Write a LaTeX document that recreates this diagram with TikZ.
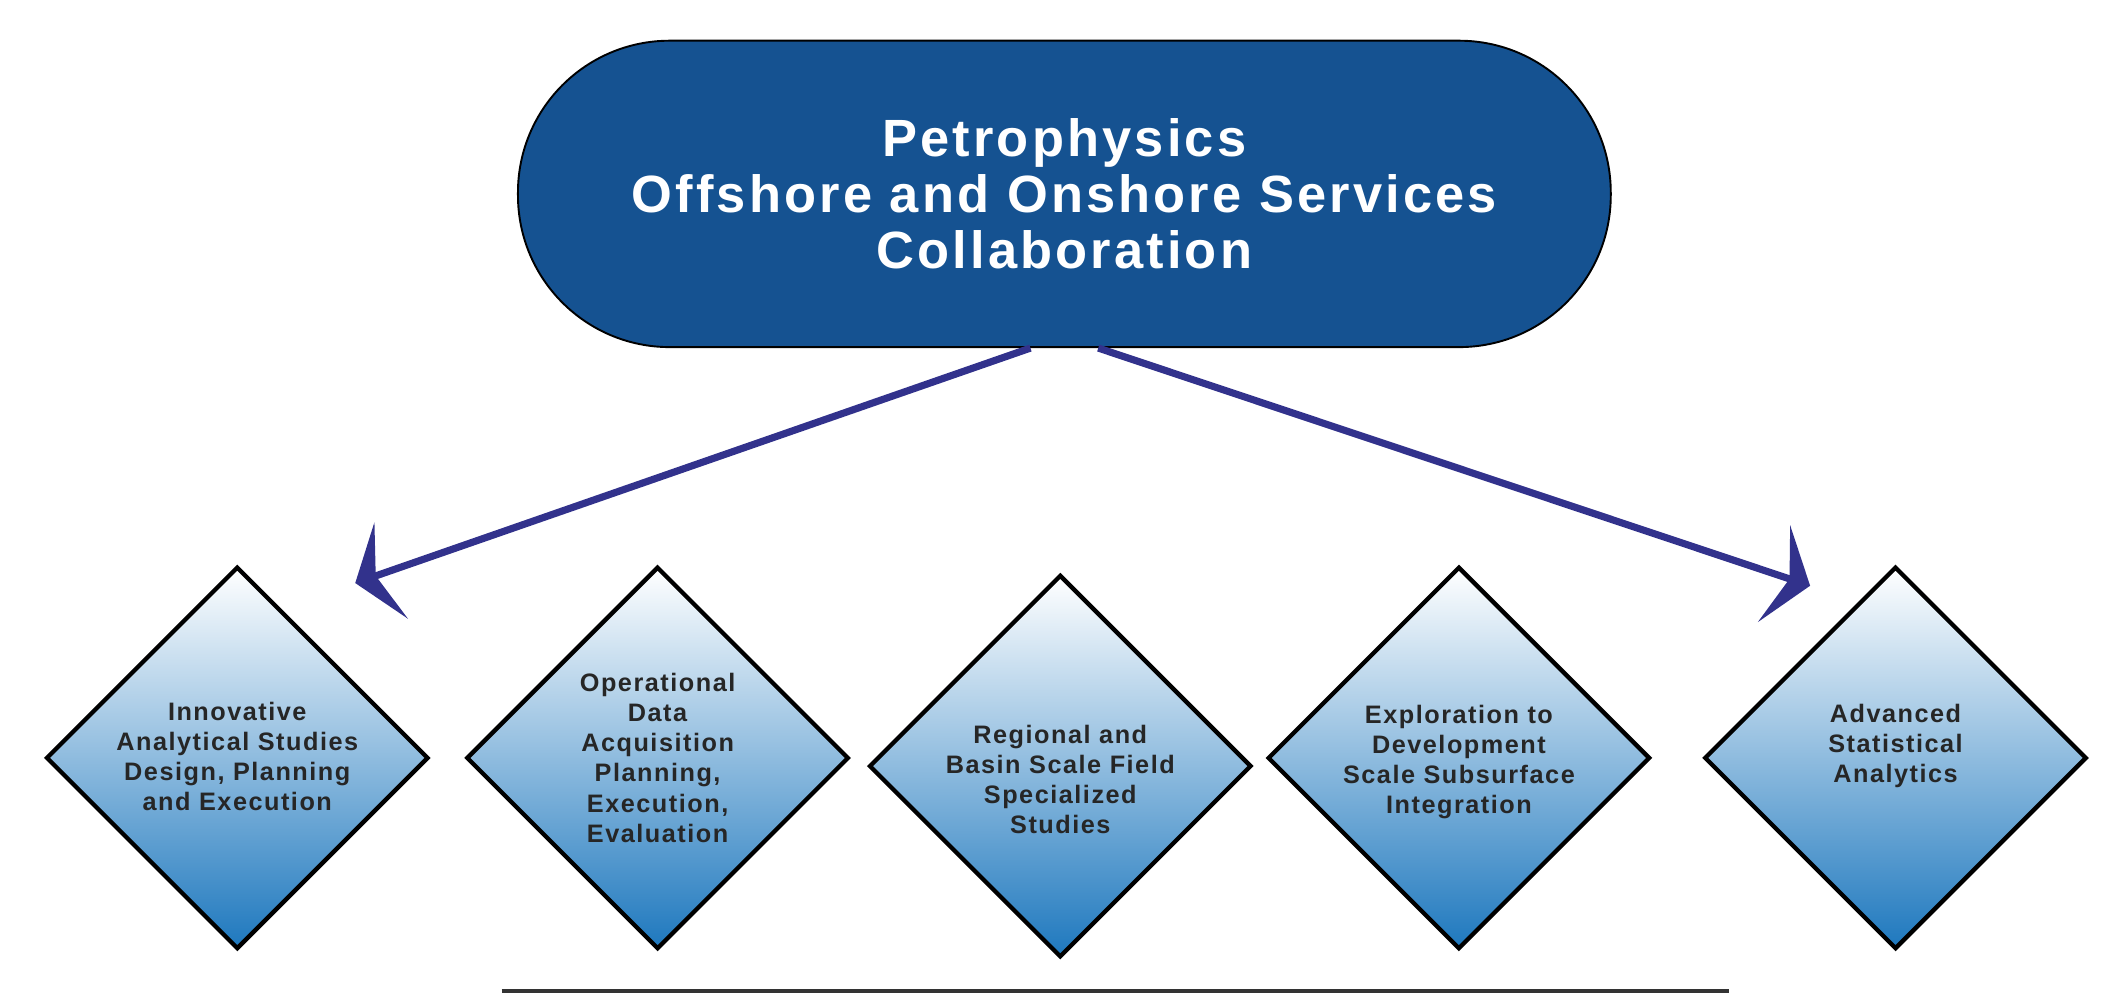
\documentclass[tikz,border=0pt]{standalone}
\usepackage{fontspec}
\usetikzlibrary{shapes.geometric,arrows.meta}
\newfontfamily\headfont[LetterSpace=6]{Liberation Sans}
\definecolor{headblue}{RGB}{21,82,145}
\definecolor{arrowblue}{RGB}{50,50,140}
\definecolor{gradblue}{RGB}{30,120,190}
\tikzset{
  dia/.style={diamond,draw=black,line width=0.9pt,minimum size=2.82cm,inner sep=0pt,
    shape aspect=1,top color=white,bottom color=gradblue},
  diatext/.style={align=center,text=black!85,font=\headfont\bfseries\fontsize{5.3}{6.3}\selectfont},
  bigarrow/.style={draw=arrowblue,line width=1.5pt,-{Stealth[length=0.28cm,width=0.75cm,inset=0.12cm]}}
}
\begin{document}
\begin{tikzpicture}
\useasboundingbox (0,0) rectangle (15.68,7.32);
\node[draw=black,fill=headblue,rounded corners=1.12cm,minimum width=8.06cm,minimum height=2.26cm,
  align=center,text=white,font=\headfont\bfseries\fontsize{11}{11.8}\selectfont]
  (Head) at (7.85,5.89) {Petrophysics\\Offshore and Onshore Services\\Collaboration};
\node[dia] (D1) at (1.75,1.73) {};
\node[dia] (D2) at (4.85,1.73) {};
\node[dia] (D3) at (7.82,1.67) {};
\node[dia] (D4) at (10.76,1.73) {};
\node[dia] (D5) at (13.98,1.73) {};
\node[diatext] (T1) at (1.75,1.74) {Innovative\\Analytical Studies\\Design, Planning\\and Execution};
\node[diatext] (T2) at (4.85,1.73) {Operational\\Data\\Acquisition\\Planning,\\Execution,\\Evaluation};
\node[diatext] (T3) at (7.82,1.57) {Regional and\\Basin Scale Field\\Specialized\\Studies};
\node[diatext] (T4) at (10.76,1.70) {Exploration to\\Development\\Scale Subsurface\\Integration};
\node[diatext] (T5) at (13.98,1.82) {Advanced\\Statistical\\Analytics};
\coordinate (L) at (2.62,3.02);
\coordinate (R) at (13.35,3.0);
\draw[bigarrow] (Head.south -| 7.6,0) -- (L);
\draw[bigarrow] (Head.south -| 8.1,0) -- (R);
\coordinate (B1) at (3.7,0.01);
\coordinate (B2) at (12.75,0.01);
\draw[black!80,line width=0.8pt] (B1) -- (B2);
\end{tikzpicture}
\end{document}
